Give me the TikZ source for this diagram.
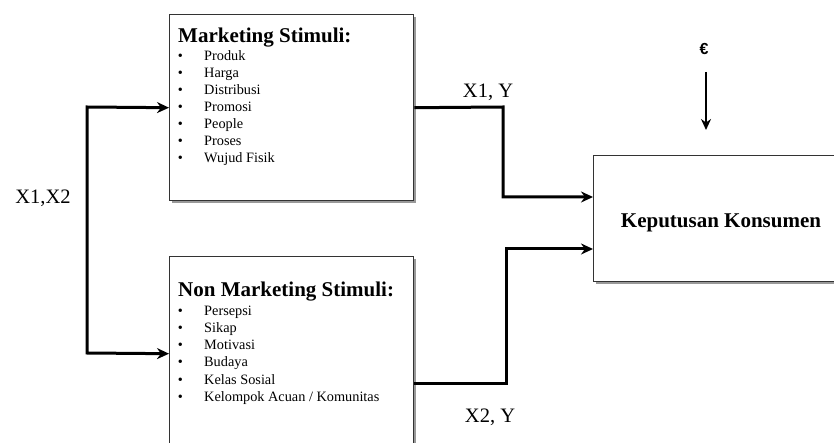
\documentclass[tikz,border=0pt]{standalone}
\usepackage{fontspec}
\setmainfont{Liberation Serif}
\newfontfamily\symfont{Liberation Sans}
\usetikzlibrary{arrows.meta}
\begin{document}
\begin{tikzpicture}[x=1pt,y=-1pt,
  box/.style={draw=black!80,line width=1.4pt,fill=white,rectangle,inner sep=0pt,anchor=north west},
  shadowbox/.style={fill=black!40,draw=none,rectangle,inner sep=0pt,anchor=north west},
  conn/.style={line width=3pt,-{Stealth[length=12pt,width=11pt]}},
  title/.style={font=\bfseries\fontsize{21}{24}\selectfont,anchor=base west,inner sep=0pt},
  item/.style={font=\fontsize{14.3}{16}\selectfont,anchor=base west,inner sep=0pt},
  bul/.style={font=\fontsize{14.3}{16}\selectfont,anchor=base,inner sep=0pt},
  lab/.style={font=\fontsize{20.5}{24}\selectfont,inner sep=0pt}]
\useasboundingbox (0,0) rectangle (834,443);
\clip (0,0) rectangle (834,443);
% shadows
\node[shadowbox,minimum width=244pt,minimum height=186pt] (tops) at (171.5,16.5) {};
\node[shadowbox,minimum width=244pt,minimum height=194pt] (bots) at (171.5,258.5) {};
\node[shadowbox,minimum width=250pt,minimum height=126pt] (rs) at (595.5,157.5) {};
% boxes
\node[box,minimum width=244pt,minimum height=186pt] (top) at (169,14) {};
\node[box,minimum width=244pt,minimum height=194pt] (bot) at (169,256) {};
\node[box,minimum width=250pt,minimum height=126pt] (kk) at (593,155) {};
% top box text
\node[title] (t1) at (178,43) {Marketing Stimuli:};
\foreach \t [count=\i from 0] in {Produk,Harga,Distribusi,Promosi,People,Proses,Wujud Fisik}{
  \node[bul] (tb\i) at (180.5,61+16.94*\i) {•};
  \node[item] (ti\i) at (204,61+16.94*\i) {\t};
}
% bottom box text
\node[title] (t2) at (178,296) {Non Marketing Stimuli:};
\foreach \t [count=\i from 0] in {Persepsi,Sikap,Motivasi,Budaya,Kelas Sosial,Kelompok Acuan / Komunitas}{
  \node[bul] (bb\i) at (180.5,315+17.3*\i) {•};
  \node[item] (bi\i) at (204,315+17.3*\i) {\t};
}
% right box text
\node[font=\bfseries\fontsize{21}{24}\selectfont,anchor=base,inner sep=0pt] (kt) at (721,228) {Keputusan Konsumen};
% labels
\node[lab] (l1) at (43,198) {X1,X2};
\node[lab] (l2) at (488,92) {X1, Y};
\node[lab] (l3) at (490,417) {X2, Y};
\node[font=\symfont\bfseries\fontsize{16}{18}\selectfont,inner sep=0pt] (eu) at (704,49) {€};
\coordinate (eutop) at (706,72);
% connectors
\draw[conn,{Stealth[length=12pt,width=11pt]}-{Stealth[length=12pt,width=11pt]}] (top.west) -- (87,107) -- (87,353) -- (bot.west);
\draw[conn] (top.east) -- (503,107) -- (503,197) -- (kk.west |- 0,197);
\draw[conn] (bot.east |- 0,383) -- (506,383) -- (506,249) -- (kk.west |- 0,249);
\draw[line width=2.6pt,-{Stealth[length=11pt,width=10pt]}] (eutop) -- (706,130);
\end{tikzpicture}
\end{document}
